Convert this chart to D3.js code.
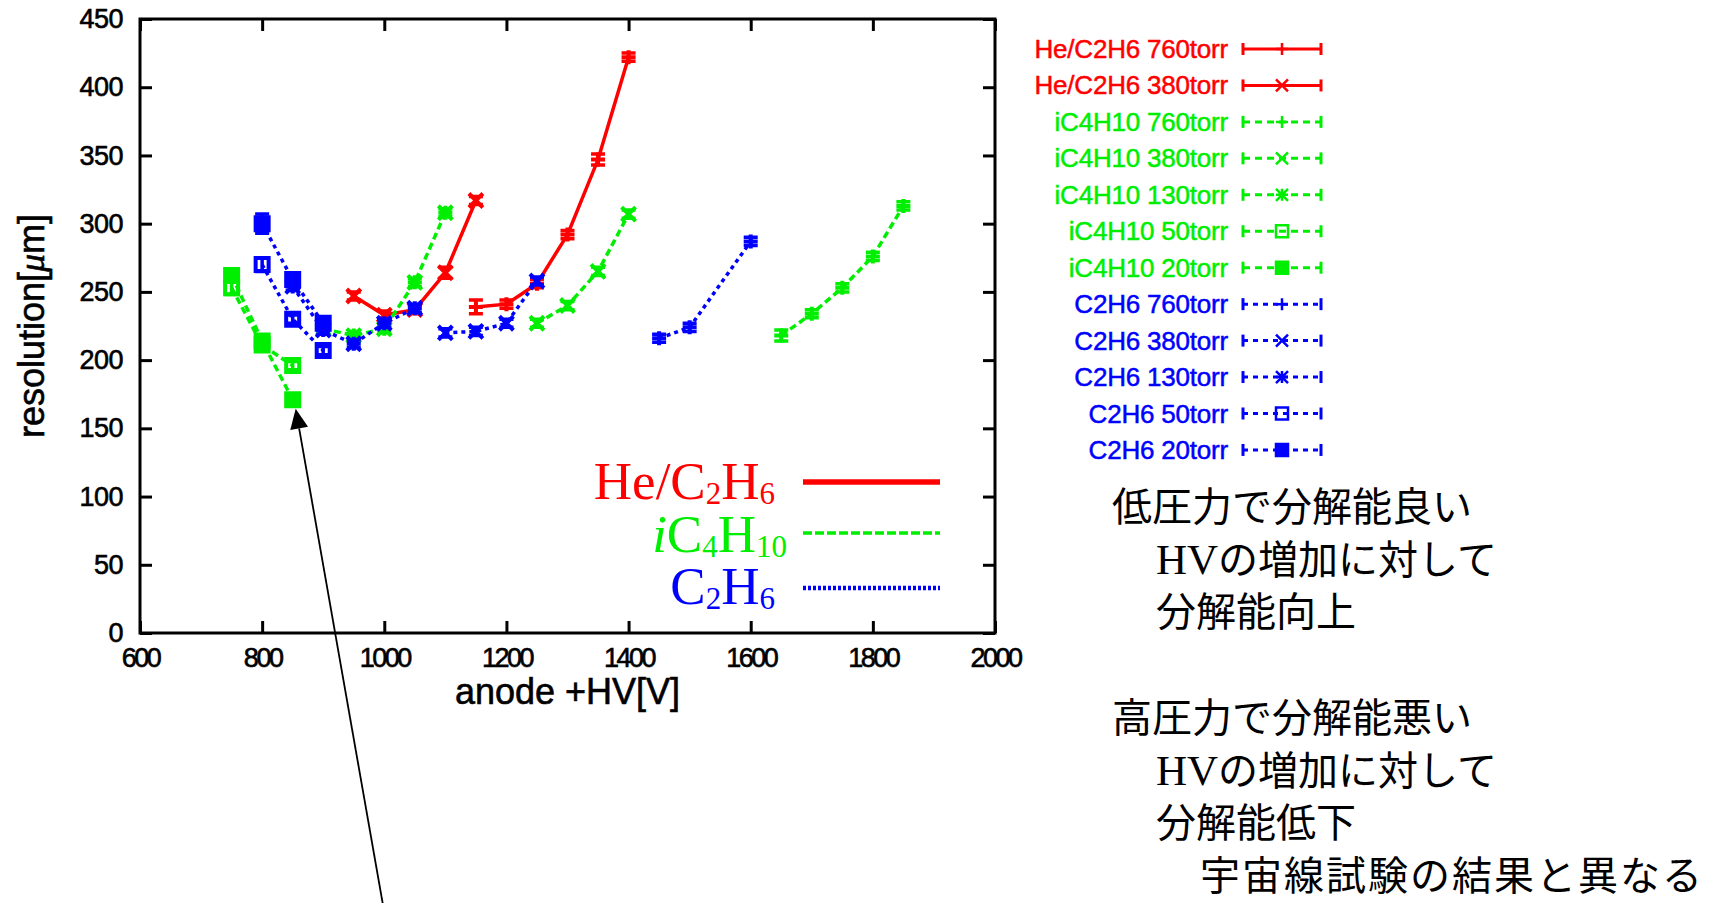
<!DOCTYPE html>
<html>
<head>
<meta charset="utf-8">
<script src="https://cdn.jsdelivr.net/npm/d3@7"></script>
<style>
  body { margin: 0; background: #fff; }
  svg { display: block; }
</style>
</head>
<body>
<script>
// Spatial resolution versus anode high voltage, three gases at several pressures

const hvTicks = [600, 800, 1000, 1200, 1400, 1600, 1800, 2000];
const resTicks = [0, 50, 100, 150, 200, 250, 300, 350, 400, 450];

// Each point: [anode HV (V), resolution (µm), error (µm)]
const he760 = [[1150, 239, 5], [1200, 241, 3], [1250, 256, 3], [1300, 292, 3], [1350, 347, 4], [1400, 422, 3]];
const he380 = [[950, 247, 3], [1000, 233, 3], [1050, 237, 3], [1100, 264, 4], [1150, 317, 3]];
const ic760 = [[1650, 218, 4], [1700, 234, 3], [1750, 253, 3], [1800, 276, 3], [1850, 313, 3]];
const ic380 = [[1250, 227, 3], [1300, 240, 3], [1350, 265, 3], [1400, 307, 3]];
const ic130 = [[900, 223, 3], [950, 218, 3], [1000, 223, 3], [1050, 257, 3], [1100, 308, 3]];
const ic50  = [[750, 253, 5], [800, 211, 4], [850, 196, 3]];
const ic20  = [[750, 262, 3], [800, 214, 4], [850, 171, 3]];
const c760  = [[1450, 216, 3], [1500, 224, 3], [1600, 287, 3]];
const c380  = [[1100, 220, 3], [1150, 221, 3], [1200, 227, 3], [1250, 258, 3]];
const c130  = [[850, 254, 3], [900, 222, 3], [950, 212, 3], [1000, 227, 3], [1050, 238, 3]];
const c50   = [[800, 270, 5], [850, 230, 3], [900, 207, 3]];
const c20   = [[800, 300, 7], [850, 259, 4], [900, 227, 3]];

const seriesLabels = [
  "He/C2H6 760torr", "He/C2H6 380torr",
  "iC4H10 760torr", "iC4H10 380torr", "iC4H10 130torr", "iC4H10 50torr", "iC4H10 20torr",
  "C2H6 760torr", "C2H6 380torr", "C2H6 130torr", "C2H6 50torr", "C2H6 20torr"
];
const seriesGas = [0, 0, 1, 1, 1, 1, 1, 2, 2, 2, 2, 2];
const seriesMarker = ["plus", "cross", "plus", "cross", "star", "box", "boxf", "plus", "cross", "star", "box", "boxf"];
const seriesData = [he760, he380, ic760, ic380, ic130, ic50, ic20, c760, c380, c130, c50, c20];

const noteLines = [
  "低圧力で分解能良い",
  " HVの増加に対して",
  " 分解能向上",
  "",
  "高圧力で分解能悪い",
  " HVの増加に対して",
  " 分解能低下",
  "  宇宙線試験の結果と異なる"
];

// Per-gas drawing styles
const gasStyle = [
  { color: "#ff0000", dash: null,  legendDash: null,  keyDash: null },
  { color: "#00ee00", dash: "7,4", legendDash: "9,3", keyDash: "7,5" },
  { color: "#0000ff", dash: "4,4", legendDash: "3,2", keyDash: "5,5" }
];

const W = 1710, H = 903;
const plotLeft = 140, plotRight = 995, plotTop = 19, plotBottom = 633;
const sansFont = "'Liberation Sans', Arial, Helvetica, sans-serif";
const serifFont = "'Liberation Serif', 'Times New Roman', serif";
const cjkFont = "'Noto Sans CJK JP', sans-serif";

const svg = d3.select("body").append("svg")
  .attr("width", W).attr("height", H)
  .attr("viewBox", `0 0 ${W} ${H}`);
svg.append("rect").attr("width", W).attr("height", H).attr("fill", "#fff");

const x = d3.scaleLinear().domain([600, 2000]).range([plotLeft, plotRight]);
const y = d3.scaleLinear().domain([0, 450]).range([plotBottom, plotTop]);

// ---- axes: inward ticks on all four sides, labels on left and bottom ----
const tickLen = 12;
const plain = d3.format("d");
function styleAxis(g) {
  g.select(".domain").remove();
  g.selectAll(".tick line").attr("stroke", "#000").attr("stroke-width", 3);
  g.selectAll(".tick text").attr("fill", "#000").attr("stroke", "#000").attr("stroke-width", 0.6);
  g.attr("font-family", sansFont).attr("font-size", 27);
}
svg.append("g").attr("transform", `translate(${plotLeft},0)`)
  .call(d3.axisLeft(y).tickValues(resTicks).tickFormat(plain).tickSizeInner(-tickLen).tickSizeOuter(0).tickPadding(17))
  .call(styleAxis)
  .selectAll(".tick text").attr("letter-spacing", -0.5);
svg.append("g").attr("transform", `translate(${plotRight},0)`)
  .call(d3.axisRight(y).tickValues(resTicks).tickSizeInner(-tickLen).tickSizeOuter(0).tickFormat(() => ""))
  .call(styleAxis);
svg.append("g").attr("transform", `translate(0,${plotBottom})`)
  .call(d3.axisBottom(x).tickValues(hvTicks).tickFormat(plain).tickSizeInner(-tickLen).tickSizeOuter(0).tickPadding(15))
  .call(styleAxis)
  .selectAll(".tick text").attr("letter-spacing", -2.5);
svg.append("g").attr("transform", `translate(0,${plotTop})`)
  .call(d3.axisTop(x).tickValues(hvTicks).tickSizeInner(-tickLen).tickSizeOuter(0).tickFormat(() => ""))
  .call(styleAxis);

svg.append("rect")
  .attr("x", plotLeft).attr("y", plotTop)
  .attr("width", plotRight - plotLeft).attr("height", plotBottom - plotTop)
  .attr("fill", "none").attr("stroke", "#000").attr("stroke-width", 3);

// axis titles
svg.append("text")
  .attr("x", (plotLeft + plotRight) / 2).attr("y", 704)
  .attr("text-anchor", "middle")
  .attr("font-family", sansFont).attr("font-size", 36)
  .attr("stroke", "#000").attr("stroke-width", 0.6)
  .text("anode +HV[V]");

const yTitle = svg.append("text")
  .attr("transform", `translate(44,${(plotTop + plotBottom) / 2}) rotate(-90)`)
  .attr("text-anchor", "middle")
  .attr("font-family", sansFont).attr("font-size", 36)
  .attr("stroke", "#000").attr("stroke-width", 0.6);
yTitle.append("tspan").text("resolution[");
yTitle.append("tspan").attr("font-style", "italic").attr("font-family", serifFont).text("μ");
yTitle.append("tspan").text("m]");

// ---- marker shapes ----
function markerPath(type, h) {
  switch (type) {
    case "plus":  return `M${-h},0H${h}M0,${-h}V${h}`;
    case "cross": return `M${-h},${-h}L${h},${h}M${-h},${h}L${h},${-h}`;
    case "star":  return `M${-h},0H${h}M0,${-h}V${h}M${-h},${-h}L${h},${h}M${-h},${h}L${h},${-h}`;
    default:      return `M${-h},${-h}H${h}V${h}H${-h}Z`;
  }
}
function drawMarker(g, type, cx, cy, h, color, sw) {
  const filled = type === "boxf";
  g.append("path")
    .attr("transform", `translate(${cx},${cy})`)
    .attr("d", markerPath(type, h))
    .attr("fill", filled ? color : "none")
    .attr("stroke", color)
    .attr("stroke-width", sw)
    .attr("stroke-linejoin", "miter");
}

// ---- data series: line + error bars + markers ----
const line = d3.line().x(d => x(d[0])).y(d => y(d[1]));
const plotG = svg.append("g");
seriesData.forEach((data, i) => {
  const st = gasStyle[seriesGas[i]];
  const g = plotG.append("g");
  g.append("path")
    .attr("d", line(data))
    .attr("fill", "none")
    .attr("stroke", st.color)
    .attr("stroke-width", 3.5)
    .attr("stroke-dasharray", st.dash);
  data.forEach(d => {
    const cx = x(d[0]), y0 = y(d[1] - d[2]), y1 = y(d[1] + d[2]);
    g.append("path")
      .attr("d", `M${cx},${y0}V${y1}M${cx - 7},${y0}H${cx + 7}M${cx - 7},${y1}H${cx + 7}`)
      .attr("fill", "none").attr("stroke", st.color).attr("stroke-width", 3.5);
    drawMarker(g, seriesMarker[i], cx, y(d[1]), seriesMarker[i].startsWith("box") ? 6.5 : 7, st.color, 4);
  });
});

// ---- in-plot gas legend ----
const gasLegend = [
  { parts: [["He/C", 0], ["2", 1], ["H", 0], ["6", 1]], right: 775, base: 499, lineY: 482, width: 5.5 },
  { parts: [["i", 2], ["C", 0], ["4", 1], ["H", 0], ["10", 1]], right: 787, base: 552, lineY: 533, width: 3.5 },
  { parts: [["C", 0], ["2", 1], ["H", 0], ["6", 1]], right: 775, base: 604, lineY: 588, width: 4.5 }
];
gasLegend.forEach((e, i) => {
  const st = gasStyle[i];
  const t = svg.append("text")
    .attr("x", e.right).attr("y", e.base)
    .attr("text-anchor", "end")
    .attr("font-family", serifFont).attr("font-size", 53)
    .attr("fill", st.color);
  let lowered = false;
  e.parts.forEach(([s, kind]) => {
    const ts = t.append("tspan").text(s);
    if (kind === 1) {
      ts.attr("font-size", 31);
      if (!lowered) { ts.attr("dy", 5); lowered = true; }
    } else {
      if (lowered) { ts.attr("dy", -5); lowered = false; }
      if (kind === 2) ts.attr("font-style", "italic");
    }
  });
  svg.append("line")
    .attr("x1", 803).attr("x2", 940).attr("y1", e.lineY).attr("y2", e.lineY)
    .attr("stroke", st.color).attr("stroke-width", e.width)
    .attr("stroke-dasharray", st.legendDash);
});

// ---- series key outside the plot ----
const keyTop = 49, keyStep = 36.45, keyTextRight = 1228, keyX0 = 1243, keyX1 = 1321;
seriesLabels.forEach((label, i) => {
  const st = gasStyle[seriesGas[i]];
  const cy = keyTop + i * keyStep;
  svg.append("text")
    .attr("x", keyTextRight).attr("y", cy + 9)
    .attr("text-anchor", "end")
    .attr("font-family", sansFont).attr("font-size", 26)
    .attr("letter-spacing", -0.2)
    .attr("fill", st.color).attr("stroke", st.color).attr("stroke-width", 0.5)
    .text(label);
  svg.append("line")
    .attr("x1", keyX0).attr("x2", keyX1).attr("y1", cy).attr("y2", cy)
    .attr("stroke", st.color).attr("stroke-width", 3)
    .attr("stroke-dasharray", st.keyDash);
  [keyX0, keyX1].forEach(ex => {
    svg.append("line")
      .attr("x1", ex).attr("x2", ex).attr("y1", cy - 6).attr("y2", cy + 6)
      .attr("stroke", st.color).attr("stroke-width", 3);
  });
  drawMarker(svg, seriesMarker[i], (keyX0 + keyX1) / 2, cy, 6, st.color, 2.5);
});

// ---- arrow pointing at the lowest iC4H10 point ----
const tipX = x(850) + 3, tipY = y(171) + 9;
const tailX = 383, tailY = 905;
const ang = Math.atan2(tipY - tailY, tipX - tailX);
const headLen = 20, headHalf = 9;
const bx = tipX - headLen * Math.cos(ang), by = tipY - headLen * Math.sin(ang);
svg.append("line")
  .attr("x1", tailX).attr("y1", tailY).attr("x2", bx).attr("y2", by)
  .attr("stroke", "#000").attr("stroke-width", 1.8);
svg.append("path")
  .attr("d", `M${tipX},${tipY}L${bx + headHalf * Math.sin(ang)},${by - headHalf * Math.cos(ang)}L${bx - headHalf * Math.sin(ang)},${by + headHalf * Math.cos(ang)}Z`)
  .attr("fill", "#000");

// ---- notes ----
const noteX = 1112, noteIndent = 44, noteTop = 521, noteStep = 52.7, noteSize = 40;
noteLines.forEach((raw, i) => {
  if (!raw.trim()) return;
  const indent = raw.length - raw.trimStart().length;
  const s = raw.trim();
  const t = svg.append("text")
    .attr("x", noteX + indent * noteIndent)
    .attr("y", noteTop + i * noteStep)
    .attr("font-family", cjkFont).attr("font-size", noteSize)
    .attr("letter-spacing", indent === 2 ? 2 : 0)
    .attr("fill", "#000");
  if (s.startsWith("HV")) {
    t.append("tspan").attr("font-family", serifFont).attr("font-size", 43).text("HV");
    t.append("tspan").text(s.slice(2));
  } else {
    t.text(s);
  }
});
</script>
</body>
</html>
